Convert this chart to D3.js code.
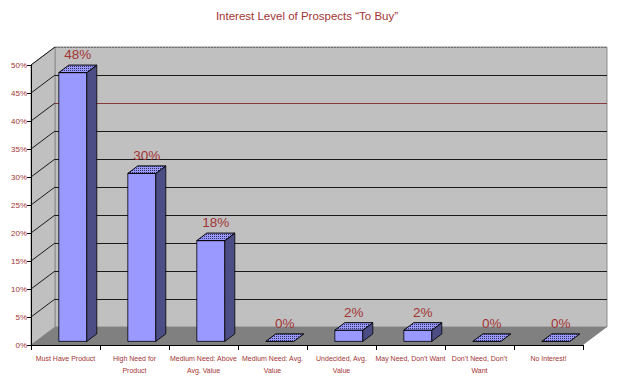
<!DOCTYPE html>
<html>
<head>
<meta charset="utf-8">
<script src="https://cdn.jsdelivr.net/npm/d3@7"></script>
<style>
body { margin: 0; background: #fff; }
svg { display: block; font-family: "Liberation Sans", Arial, sans-serif; }
</style>
</head>
<body>
<svg></svg>
<script>
var categories = [
	['Must Have Product'],
	['High Need for', 'Product'],
	['Medium Need: Above', 'Avg. Value'],
	['Medium Need: Avg.', 'Value'],
	['Undecided, Avg.', 'Value'],
	['May Need, Don\u2019t Want'],
	['Don\u2019t Need, Don\u2019t', 'Want'],
	['No Interest!']
]
var values = [0.48, 0.30, 0.18, 0, 0.02, 0.02, 0, 0]
var yTicks = [0, 0.05, 0.10, 0.15, 0.20, 0.25, 0.30, 0.35, 0.40, 0.45, 0.50]
var title = 'Interest Level of Prospects \u201CTo Buy\u201D'

var width = 640, height = 378
var svg = d3.select('svg').attr('width', width).attr('height', height)

var red = '#a33434'
// depth of the 3d box
var DX = 24, DY = -18

var x = d3.scaleBand().domain(d3.range(categories.length)).range([31, 583])
var y = d3.scaleLinear().domain([0, 0.5]).range([345, 65])

var defs = svg.append('defs')
var pat = defs.append('pattern').attr('id', 'dots')
	.attr('width', 2).attr('height', 2).attr('patternUnits', 'userSpaceOnUse')
pat.append('rect').attr('width', 2).attr('height', 2).attr('fill', '#9999ff')
pat.append('rect').attr('width', 1).attr('height', 1).attr('fill', '#333366')

var x0 = x.range()[0], x1 = x.range()[1]
var yb = y(0), yt = y(0.5)

function pts(a) { return a.map(function(p) {return p.join(',')}).join(' ') }

// back wall
svg.append('polygon')
	.attr('points', pts([[x0 + DX, yt + DY], [x1 + DX, yt + DY], [x1 + DX, yb + DY], [x0 + DX, yb + DY]]))
	.attr('fill', '#c0c0c0').attr('stroke', '#8c8c8c')
// left wall
svg.append('polygon')
	.attr('points', pts([[x0, yt], [x0 + DX, yt + DY], [x0 + DX, yb + DY], [x0, yb]]))
	.attr('fill', '#c0c0c0').attr('stroke', '#8c8c8c')
// floor
svg.append('polygon')
	.attr('points', pts([[x0, yb], [x0 + DX, yb + DY], [x1 + DX, yb + DY], [x1, yb]]))
	.attr('fill', '#808080')

// gridlines
var grid = svg.append('g')
yTicks.forEach(function(t) {
	if (t === 0) return
	var c = t === 0.40 ? '#8a3a3a' : '#1a1a1a'
	grid.append('line')
		.attr('x1', x0 + DX).attr('x2', x1 + DX)
		.attr('y1', y(t) + DY + 0.5).attr('y2', y(t) + DY + 0.5)
		.attr('stroke', c).attr('stroke-dasharray', t === 0.5 ? '2,1' : null)
		.attr('stroke-opacity', t === 0.5 ? 0.4 : 1)
	grid.append('line')
		.attr('x1', x0).attr('x2', x0 + DX)
		.attr('y1', y(t)).attr('y2', y(t) + DY)
		.attr('stroke', '#1a1a1a')
})

// y axis
var yAxis = svg.append('g')
yAxis.append('line').attr('x1', x0 + 0.5).attr('x2', x0 + 0.5)
	.attr('y1', yt).attr('y2', yb).attr('stroke', '#000')
yTicks.forEach(function(t) {
	yAxis.append('line').attr('x1', x0 - 4).attr('x2', x0)
		.attr('y1', y(t) + 0.5).attr('y2', y(t) + 0.5).attr('stroke', '#000')
	yAxis.append('text').attr('x', x0 - 4).attr('y', y(t) + 3)
		.attr('text-anchor', 'end').attr('font-size', 8).attr('fill', red)
		.text(Math.round(t * 100) + '%')
})

// x axis
var xAxis = svg.append('g')
xAxis.append('line').attr('x1', x0).attr('x2', x1)
	.attr('y1', yb + 0.5).attr('y2', yb + 0.5).attr('stroke', '#000')
d3.range(categories.length + 1).forEach(function(i) {
	var tx = x0 + i * x.bandwidth()
	xAxis.append('line').attr('x1', tx + 0.5).attr('x2', tx + 0.5)
		.attr('y1', yb).attr('y2', yb + 5).attr('stroke', '#000')
})
categories.forEach(function(lines, i) {
	var t = xAxis.append('text').attr('text-anchor', 'middle')
		.attr('font-size', 7).attr('fill', red)
	lines.forEach(function(l, j) {
		t.append('tspan').attr('x', x(i) + x.bandwidth() / 2)
			.attr('y', 361 + j * 11.5).text(l)
	})
})

// bars
var bw = 28, bdx = 10, bdy = -7.5, fdx = 4.8, fdy = -3.6
var bars = svg.append('g').selectAll('g').data(values).enter().append('g')
bars.each(function(v, i) {
	var g = d3.select(this)
	var l = x(i) + 23 + fdx, r = l + bw
	var b = y(0) + fdy, t = y(v) + fdy
	if (v > 0) {
		g.append('polygon').attr('points', pts([[l, t], [r, t], [r, b], [l, b]]))
			.attr('fill', '#9999ff').attr('stroke', '#000').attr('stroke-width', 0.8)
		g.append('polygon').attr('points', pts([[r, b], [r + bdx, b + bdy], [r + bdx, t + bdy], [r, t]]))
			.attr('fill', '#4d4d86').attr('stroke', '#000').attr('stroke-width', 0.8)
	}
	g.append('polygon').attr('points', pts([[l, t], [l + bdx, t + bdy], [r + bdx, t + bdy], [r, t]]))
		.attr('fill', 'url(#dots)').attr('stroke', '#000').attr('stroke-width', 1)
	g.append('text').attr('x', (l + r + bdx) / 2).attr('y', t + bdy - 6)
		.attr('text-anchor', 'middle').attr('font-size', 13.5).attr('fill', red)
		.text(Math.round(v * 100) + '%')
})

svg.append('text').attr('x', 307).attr('y', 20).attr('text-anchor', 'middle')
	.attr('font-size', 11.5).attr('fill', red).text(title)
</script>
</body>
</html>
